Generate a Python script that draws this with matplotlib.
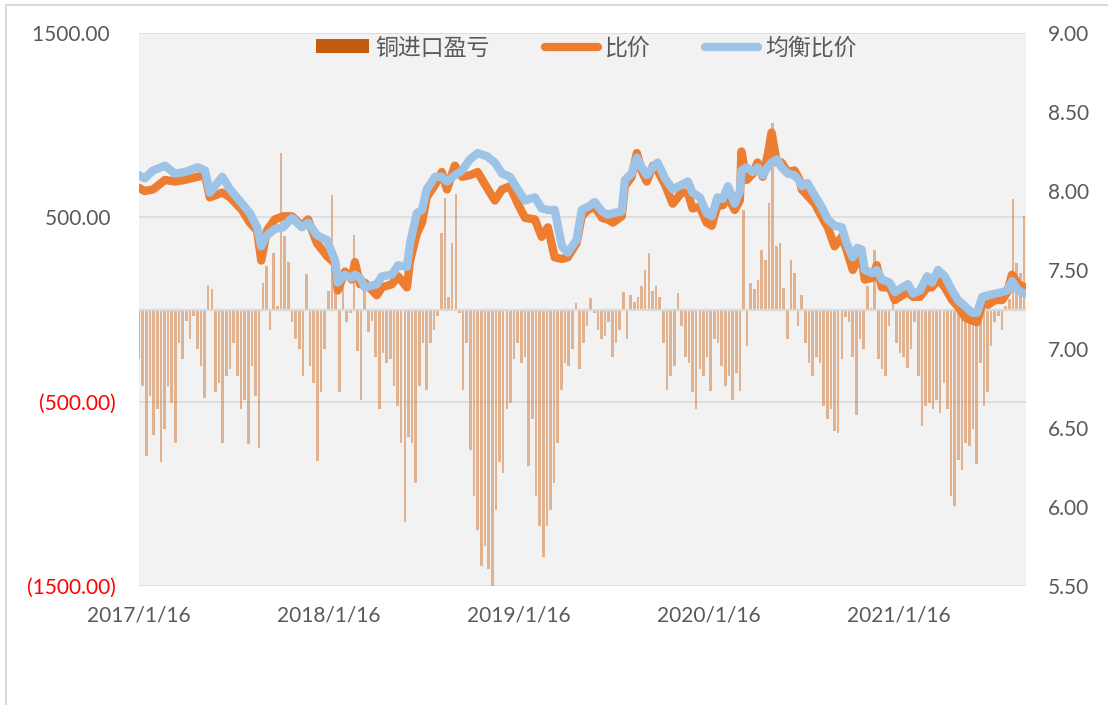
import matplotlib
matplotlib.use('Agg')
import matplotlib.pyplot as plt
import pandas as pd
from matplotlib.patches import Rectangle, Patch
from matplotlib.lines import Line2D

# ---------------- data ----------------
series_names = ['铜进口盈亏', '比价', '均衡比价']

# weekly import profit/loss (left axis)
bar_start = '2017-01-16'
profit_loss = [
    -270, -415, -795, -470, -680, -540, -825, -650, -415, -505,
    -725, -180, -270, -60, -160, -35, -215, -305, -480, 135,
    110, -450, -400, -725, -360, -325, -180, -360, -540, -490,
    -730, -305, -470, -750, 145, 235, -110, 305, 20, 850,
    400, 260, -70, -160, -215, -360, 190, -305, -400, -820,
    -450, -215, 100, 620, 255, -450, 125, -70, -20, 405,
    -225, -490, 150, -120, -60, -255, -540, -235, -290, -270,
    -415, -525, -725, -1155, -690, -725, -940, -415, -180, -435,
    -180, -110, -35, 415, 605, 70, 360, 625, -20, -435,
    -180, -760, -1010, -1195, -1390, -1285, -1410, -1500, -1085, -830,
    -885, -540, -505, -270, -180, -290, -255, -850, -595, -1010,
    -1175, -1345, -1175, -1085, -940, -725, -435, -290, -305, -215,
    35, -325, -180, -90, 60, -20, -110, -160, -145, -70,
    -255, -180, -110, 95, -160, 80, 40, 70, 125, 215,
    305, 100, 125, 70, -180, -435, -360, -305, 90, -90,
    -260, -290, -450, -540, -325, -360, -255, -440, -160, -180,
    -305, -415, -360, -490, -345, -440, 540, -200, 145, 110,
    160, 325, 270, 580, 1010, 345, 360, 115, -160, 270,
    200, -90, 80, -180, -290, -360, -255, -290, -525, -595,
    -540, -660, -670, -270, -40, -70, -255, -570, -160, -215,
    125, 10, 325, -270, -325, -360, -90, 35, -180, -235,
    -255, -315, -215, -70, -360, -630, -525, -505, -540, -490,
    -560, -400, -540, -1010, -1065, -815, -870, -725, -740, -650,
    -840, -290, -525, -450, -200, -70, -35, -110, 20, 55,
    600, 250, 200, 505,
]

# price ratio lines (right axis)
line_dates = [
    '2017-01-16', '2017-01-27', '2017-02-12', '2017-03-07', '2017-03-26', '2017-04-14',
    '2017-05-09', '2017-05-23', '2017-06-01', '2017-06-25', '2017-07-10', '2017-08-02',
    '2017-08-17', '2017-08-31', '2017-09-08', '2017-09-19', '2017-10-04', '2017-10-20',
    '2017-11-06', '2017-11-25', '2017-12-07', '2017-12-24', '2018-01-12', '2018-01-28',
    '2018-02-02', '2018-02-16', '2018-03-01', '2018-03-07', '2018-03-17', '2018-03-26',
    '2018-04-18', '2018-04-28', '2018-05-17', '2018-05-29', '2018-06-15', '2018-06-21',
    '2018-07-04', '2018-07-14', '2018-07-23', '2018-08-08', '2018-08-21', '2018-08-31',
    '2018-09-15', '2018-09-29', '2018-10-14', '2018-10-29', '2018-11-16', '2018-12-01',
    '2018-12-15', '2018-12-30', '2019-01-14', '2019-01-28', '2019-02-16', '2019-03-01',
    '2019-03-13', '2019-03-26', '2019-04-09', '2019-04-20', '2019-05-07', '2019-05-17',
    '2019-05-29', '2019-06-11', '2019-06-25', '2019-07-06', '2019-07-16', '2019-08-02',
    '2019-08-08', '2019-08-21', '2019-08-31', '2019-09-09', '2019-09-19', '2019-10-01',
    '2019-10-10', '2019-10-24', '2019-11-08', '2019-11-25', '2019-12-07', '2019-12-16',
    '2019-12-30', '2020-01-12', '2020-01-22', '2020-02-02', '2020-02-12', '2020-02-22',
    '2020-03-06', '2020-03-16', '2020-03-19', '2020-03-29', '2020-04-10', '2020-04-19',
    '2020-04-29', '2020-05-08', '2020-05-16', '2020-05-26', '2020-06-04', '2020-06-16',
    '2020-06-29', '2020-07-09', '2020-07-13', '2020-07-24', '2020-08-07', '2020-08-20',
    '2020-09-01', '2020-09-14', '2020-09-28', '2020-10-07', '2020-10-19', '2020-10-28',
    '2020-11-05', '2020-11-11', '2020-11-26', '2020-12-04', '2020-12-14', '2020-12-29',
    '2021-01-08', '2021-01-22', '2021-02-02', '2021-02-12', '2021-02-25', '2021-03-11',
    '2021-03-20', '2021-04-01', '2021-04-14', '2021-04-28', '2021-05-09', '2021-05-23',
    '2021-06-05', '2021-06-15', '2021-06-25', '2021-07-06', '2021-07-20', '2021-08-02',
    '2021-08-12', '2021-08-21', '2021-09-02', '2021-09-15',
]
price_ratio = [
    8.02, 8.00, 8.01, 8.07, 8.06, 8.07, 8.09, 8.10, 7.96, 7.99, 7.96, 7.88,
    7.80, 7.75, 7.56, 7.75, 7.82, 7.84, 7.84, 7.78, 7.82, 7.67, 7.59, 7.54,
    7.37, 7.49, 7.44, 7.55, 7.41, 7.42, 7.34, 7.39, 7.41, 7.46, 7.39, 7.56,
    7.73, 7.80, 7.96, 8.04, 8.12, 8.01, 8.16, 8.09, 8.10, 8.12, 8.02, 7.94,
    8.01, 8.03, 7.92, 7.83, 7.82, 7.71, 7.77, 7.58, 7.57, 7.58, 7.67, 7.84,
    7.88, 7.90, 7.83, 7.82, 7.80, 7.84, 8.03, 8.09, 8.24, 8.13, 8.06, 8.16,
    8.13, 8.04, 7.92, 7.99, 7.99, 7.89, 7.90, 7.80, 7.78, 7.91, 7.91, 7.96,
    7.88, 7.94, 8.25, 8.07, 8.11, 8.18, 8.09, 8.22, 8.37, 8.18, 8.18, 8.12,
    8.13, 8.07, 8.01, 7.97, 7.92, 7.84, 7.77, 7.65, 7.71, 7.63, 7.50, 7.56,
    7.58, 7.44, 7.45, 7.53, 7.39, 7.39, 7.31, 7.34, 7.36, 7.33, 7.33, 7.39,
    7.39, 7.44, 7.39, 7.31, 7.27, 7.20, 7.18, 7.17, 7.29, 7.28, 7.31, 7.31,
    7.36, 7.47, 7.41, 7.39,
]
balance_ratio = [
    8.10, 8.08, 8.13, 8.16, 8.11, 8.12, 8.15, 8.13, 7.99, 8.09, 8.01, 7.92,
    7.86, 7.77, 7.65, 7.72, 7.76, 7.77, 7.83, 7.77, 7.80, 7.72, 7.69, 7.56,
    7.42, 7.47, 7.45, 7.47, 7.45, 7.39, 7.41, 7.46, 7.47, 7.53, 7.52, 7.67,
    7.86, 7.88, 8.01, 8.09, 8.09, 8.06, 8.10, 8.13, 8.20, 8.24, 8.22, 8.18,
    8.11, 8.09, 8.01, 7.94, 7.96, 7.89, 7.88, 7.88, 7.65, 7.61, 7.69, 7.88,
    7.90, 7.93, 7.87, 7.85, 7.86, 7.87, 8.07, 8.11, 8.21, 8.15, 8.10, 8.15,
    8.18, 8.08, 8.01, 8.04, 8.06, 7.99, 7.96, 7.86, 7.84, 7.96, 7.95, 8.03,
    7.92, 8.00, 8.13, 8.15, 8.12, 8.15, 8.10, 8.15, 8.18, 8.20, 8.15, 8.11,
    8.10, 8.06, 8.03, 8.05, 7.97, 7.90, 7.82, 7.78, 7.77, 7.67, 7.58, 7.64,
    7.63, 7.50, 7.48, 7.50, 7.44, 7.42, 7.36, 7.39, 7.41, 7.35, 7.37, 7.46,
    7.42, 7.50, 7.46, 7.37, 7.31, 7.27, 7.23, 7.23, 7.33, 7.34, 7.35, 7.36,
    7.37, 7.43, 7.37, 7.35,
]

x_range = ['2017-01-16', '2021-09-17']
x_ticks = ['2017-01-16', '2018-01-16', '2019-01-16', '2020-01-16', '2021-01-16']
x_tick_labels = ['2017/1/16', '2018/1/16', '2019/1/16', '2020/1/16', '2021/1/16']
left_ticks = [-1500, -500, 500, 1500]
left_tick_labels = ['(1500.00)', '(500.00)', '500.00 ', '1500.00 ']
right_ticks = [5.5, 6.0, 6.5, 7.0, 7.5, 8.0, 8.5, 9.0]
right_tick_labels = ['5.50', '6.00', '6.50', '7.00', '7.50', '8.00', '8.50', '9.00']

# ---------------- styling ----------------
BAR_COLOR = '#D68B55'
LEGEND_BAR = '#C55A11'
ORANGE = '#ED7D31'
BLUE = '#9DC3E6'
TEXT = '#595959'
GRID = '#D9D9D9'
NUM_FONT = ['Lato', 'DejaVu Sans']
CJK_FONT = ['Noto Sans CJK SC', 'DejaVu Sans']

plt.rcParams['font.family'] = NUM_FONT

bar_dates = pd.date_range(bar_start, periods=len(profit_loss), freq='7D')
ldates = pd.to_datetime(line_dates)

fig = plt.figure(figsize=(11.08, 7.05), dpi=100)
fig.patch.set_facecolor('white')

ax = fig.add_axes([139 / 1108, 1 - 586 / 705, (1026 - 139) / 1108, (586 - 33) / 705])
ax.set_facecolor('#F2F2F2')
ax.bar(bar_dates, profit_loss, width=5.0, color=BAR_COLOR, alpha=0.62,
       linewidth=0, zorder=2)
ax.set_ylim(-1500, 1500)
ax.set_xlim(pd.Timestamp(x_range[0]), pd.Timestamp(x_range[1]))
ax.set_yticks(left_ticks)
ax.set_yticklabels(left_tick_labels)
ax.yaxis.grid(True, color=GRID, linewidth=1.1, zorder=1)
ax.set_axisbelow(True)
ax.axhline(0, color=GRID, linewidth=1.6, zorder=3)
for lab, v in zip(ax.get_yticklabels(), left_ticks):
    lab.set_color('#FF0000' if v < 0 else TEXT)
ax.tick_params(axis='y', length=0, pad=17, labelsize=15)
ax.set_xticks(pd.to_datetime(x_ticks))
ax.set_xticklabels(x_tick_labels)
ax.tick_params(axis='x', length=0, pad=14, labelsize=15, labelcolor=TEXT)
for s in ax.spines.values():
    s.set_visible(False)

ax2 = ax.twinx()
ax2.plot(ldates, price_ratio, color=ORANGE, linewidth=6.0,
         solid_joinstyle='round', solid_capstyle='round', zorder=3)
ax2.plot(ldates, balance_ratio, color=BLUE, linewidth=6.0,
         solid_joinstyle='round', solid_capstyle='round', zorder=4)
ax2.set_ylim(5.5, 9.0)
ax2.set_yticks(right_ticks)
ax2.set_yticklabels(right_tick_labels)
ax2.tick_params(axis='y', length=0, pad=16, labelsize=15, labelcolor=TEXT)
ax2.set_xlim(pd.Timestamp(x_range[0]), pd.Timestamp(x_range[1]))
for s in ax2.spines.values():
    s.set_visible(False)

handles = [Patch(facecolor=LEGEND_BAR, edgecolor='none'),
           Line2D([], [], color=ORANGE, linewidth=6, solid_capstyle='round'),
           Line2D([], [], color=BLUE, linewidth=6, solid_capstyle='round')]
leg = fig.legend(handles, series_names, loc='center', bbox_to_anchor=(0.529, 0.932),
                 ncol=3, frameon=False, prop={'family': CJK_FONT, 'size': 16.5},
                 handlelength=2.3, handletextpad=0.3, columnspacing=2.4,
                 handleheight=0.55)
for t in leg.get_texts():
    t.set_color(TEXT)

# chart-area border
fig.patches.append(Rectangle((6 / 1108, -0.1), 1.2, 1 - 5 / 705 + 0.1,
                             transform=fig.transFigure, fill=False,
                             edgecolor=GRID, linewidth=1.5))

fig.savefig('out.png', dpi=100)
